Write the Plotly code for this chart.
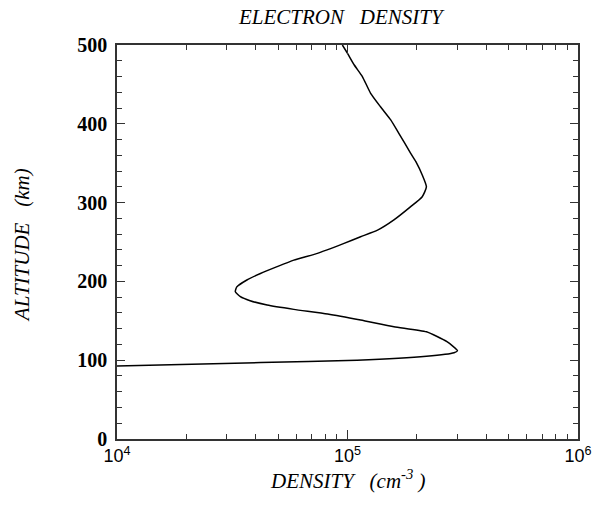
import plotly.graph_objects as go

# Electron density profile: altitude (km) vs density (cm^-3)
altitude_km = [92.5, 97, 100, 105, 109.5, 112, 123.5, 136, 142.5, 151, 158.6,
               164.5, 170, 175.5, 180.6, 187, 193, 201.8, 210, 218.7, 227,
               235.6, 248, 256.7, 265, 278, 294.8, 307.5, 320, 335, 352,
               362.5, 388, 405, 421.7, 438.7, 460, 474.6, 489.5, 500]
density_cm3 = [1.0e4, 4.2e4, 1.1e5, 2.2e5, 2.9e5, 3.0e5, 2.7e5, 2.2e5, 1.59e5,
               1.14e5, 8.2e4, 5.85e4, 4.48e4, 3.78e4, 3.43e4, 3.26e4, 3.31e4,
               3.66e4, 4.19e4, 4.95e4, 5.85e4, 7.4e4, 9.6e4, 1.14e5, 1.35e5,
               1.59e5, 1.88e5, 2.11e5, 2.2e5, 2.11e5, 1.98e5, 1.88e5, 1.67e5,
               1.54e5, 1.39e5, 1.26e5, 1.16e5, 1.07e5, 1.0e5, 9.5e4]

x_tickvals = [1e4, 1e5, 1e6]
x_ticktext = ["10<sup>4</sup>", "10<sup>5</sup>", "10<sup>6</sup>"]
y_tickvals = [0, 100, 200, 300, 400, 500]
y_ticktext = [f"<b>{v}</b>" for v in y_tickvals]

serif = "Liberation Serif"
axis_color = "#333333"

fig = go.Figure()
fig.add_trace(go.Scatter(
    x=density_cm3, y=altitude_km, mode="lines",
    line=dict(color="black", width=1.5, shape="spline", smoothing=0.5),
    showlegend=False, hoverinfo="skip",
))

fig.update_layout(
    width=593, height=506,
    margin=dict(l=117, r=15, t=45, b=67),
    paper_bgcolor="white", plot_bgcolor="white",
    xaxis=dict(
        type="log", range=[4, 6], automargin=False,
        tickvals=x_tickvals, ticktext=x_ticktext,
        ticks="inside", ticklen=9, tickwidth=1, tickcolor=axis_color,
        minor=dict(dtick="D1", ticks="inside", ticklen=5, tickwidth=1,
                   tickcolor=axis_color, showgrid=False),
        showline=True, linecolor=axis_color, linewidth=1.5,
        mirror="allticks", showgrid=False, zeroline=False,
        tickfont=dict(family="Liberation Sans", size=18, color="black"),
    ),
    yaxis=dict(
        range=[0, 500], automargin=False,
        tickvals=y_tickvals, ticktext=y_ticktext,
        ticks="inside", ticklen=8, tickwidth=1, tickcolor=axis_color,
        minor=dict(dtick=20, ticks="inside", ticklen=5, tickwidth=1,
                   tickcolor=axis_color, showgrid=False),
        showline=True, linecolor=axis_color, linewidth=1.5,
        mirror="allticks", showgrid=False, zeroline=False,
        tickfont=dict(family=serif, size=20, color="black"),
        ticklabelstandoff=4,
    ),
    annotations=[
        dict(text="<i>ELECTRON&nbsp;&nbsp;&nbsp;DENSITY</i>", xref="paper", yref="paper",
             x=0.487, y=1.0, yanchor="middle", yshift=28, showarrow=False,
             font=dict(family=serif, size=21, color="black")),
        dict(text="<i>DENSITY&nbsp;&nbsp;&nbsp;(cm<sup>-3</sup>&nbsp;)</i>", xref="paper", yref="paper",
             x=0.5, y=0, yanchor="middle", yshift=-40, showarrow=False,
             font=dict(family=serif, size=21, color="black")),
        dict(text="<i>ALTITUDE&nbsp;&nbsp;&nbsp;(km)</i>", xref="paper", yref="paper",
             x=0, xanchor="center", xshift=-95, y=0.492, yanchor="middle",
             textangle=-90, showarrow=False,
             font=dict(family=serif, size=21, color="black")),
    ],
)

fig.write_html("out.html")
